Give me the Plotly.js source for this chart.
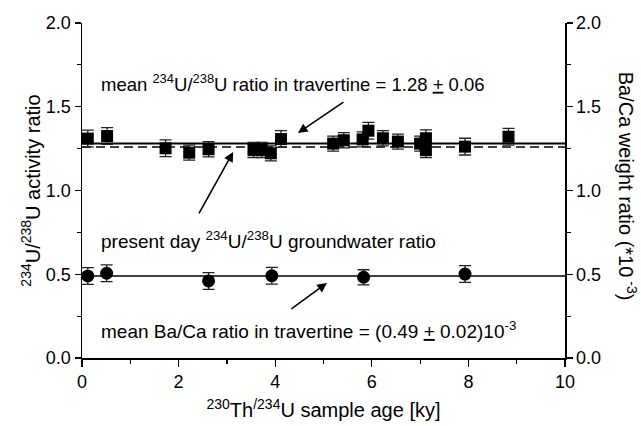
<!DOCTYPE html>
<html>
<head>
<meta charset="utf-8">
<script src="https://cdn.plot.ly/plotly-3.0.1.min.js"></script>
<style>html,body{margin:0;padding:0;background:#fff;}#chart{width:641px;height:426px;}</style>
</head>
<body>
<div id="chart"></div>
<script>
// U-234/U-238 activity ratio samples (squares)
var uAge = [0.12, 0.52, 1.73, 2.22, 2.62, 3.55, 3.72, 3.91, 4.12, 5.2, 5.42, 5.81, 5.93, 6.23, 6.54, 7.0, 7.12, 7.12, 7.93, 8.83];
var uRatio = [1.31, 1.325, 1.252, 1.226, 1.246, 1.242, 1.242, 1.222, 1.307, 1.28, 1.30, 1.305, 1.357, 1.312, 1.292, 1.28, 1.312, 1.242, 1.262, 1.321];
var uErr = [0.05, 0.05, 0.05, 0.045, 0.045, 0.045, 0.045, 0.045, 0.05, 0.045, 0.045, 0.045, 0.05, 0.045, 0.045, 0.045, 0.05, 0.045, 0.05, 0.05];
// Ba/Ca weight ratio samples (circles, *10^-3)
var baAge = [0.12, 0.51, 2.62, 3.93, 5.83, 7.93];
var baRatio = [0.49, 0.506, 0.46, 0.491, 0.482, 0.501];
var baErr = [0.05, 0.05, 0.05, 0.05, 0.045, 0.05];
// reference levels
var lineX = [0, 10];
var meanU = 1.28;
var groundwaterU = 1.26;
var meanBa = 0.49;
var xTicks = [0, 2, 4, 6, 8, 10];
var yTicks = [0.0, 0.5, 1.0, 1.5, 2.0];
var yTickText = ['0.0', '0.5', '1.0', '1.5', '2.0'];

var FONT = 'Liberation Sans, Arial, Helvetica, sans-serif';

var traces = [
  {x: lineX, y: [meanU, meanU], mode: 'lines', line: {color: '#000', width: 2}, xaxis: 'x', yaxis: 'y', hoverinfo: 'skip'},
  {x: lineX, y: [groundwaterU, groundwaterU], mode: 'lines', line: {color: '#000', width: 1.6, dash: '9px,5px'}, xaxis: 'x', yaxis: 'y', hoverinfo: 'skip'},
  {x: lineX, y: [meanBa, meanBa], mode: 'lines', line: {color: '#000', width: 1.6}, xaxis: 'x', yaxis: 'y2', hoverinfo: 'skip'},
  {x: uAge, y: uRatio, mode: 'markers', xaxis: 'x', yaxis: 'y',
   marker: {symbol: 'square', size: 12, color: '#000'},
   error_y: {type: 'data', array: uErr, visible: true, color: '#222', thickness: 1.3, width: 6}},
  {x: baAge, y: baRatio, mode: 'markers', xaxis: 'x', yaxis: 'y2',
   marker: {symbol: 'circle', size: 13, color: '#000'},
   error_y: {type: 'data', array: baErr, visible: true, color: '#222', thickness: 1.3, width: 6}}
];

var layout = {
  width: 641, height: 426,
  margin: {l: 82, r: 76, t: 23, b: 68},
  paper_bgcolor: '#fff', plot_bgcolor: '#fff',
  showlegend: false,
  font: {family: FONT, size: 18, color: '#000'},
  xaxis: {
    range: [0, 10], tickvals: xTicks, ticks: 'outside', ticklen: 7, tickwidth: 1.2, tickcolor: '#000',
    minor: {dtick: 1, ticks: 'outside', ticklen: 4, tickwidth: 1.2, tickcolor: '#000'},
    showline: true, linecolor: '#000', linewidth: 1.5, showgrid: false, zeroline: false,
    tickfont: {family: FONT, size: 18},
    title: {text: '<sup>230</sup>Th<sup>/234</sup>U sample age [ky]', font: {family: FONT, size: 20}, standoff: 12}
  },
  xaxis2: {
    range: [0, 10], overlaying: 'x', side: 'top', tickvals: xTicks, ticks: 'inside', ticklen: 6, tickwidth: 1.2, tickcolor: '#000',
    minor: {dtick: 1, ticks: 'inside', ticklen: 4, tickwidth: 1.2, tickcolor: '#000'},
    showticklabels: false, showline: true, linecolor: '#000', linewidth: 1.5, showgrid: false, zeroline: false
  },
  yaxis: {
    range: [0, 2], tickvals: yTicks, ticktext: yTickText, ticks: 'outside', ticklen: 6, tickwidth: 1.2, tickcolor: '#000',
    minor: {dtick: 0.25, ticks: 'outside', ticklen: 4, tickwidth: 1.2, tickcolor: '#000'},
    showline: true, linecolor: '#000', linewidth: 1.5, showgrid: false, zeroline: false,
    tickfont: {family: FONT, size: 18},
    title: {text: '<sup>234</sup>U/<sup>238</sup>U activity ratio', font: {family: FONT, size: 20}, standoff: 0}
  },
  yaxis2: {
    range: [0, 2], overlaying: 'y', side: 'right', tickvals: yTicks, ticktext: yTickText, ticks: 'outside', ticklen: 6, tickwidth: 1.2, tickcolor: '#000',
    minor: {dtick: 0.25, ticks: 'outside', ticklen: 4, tickwidth: 1.2, tickcolor: '#000'},
    showline: true, linecolor: '#000', linewidth: 1.5, showgrid: false, zeroline: false,
    tickfont: {family: FONT, size: 18}
  },
  annotations: [
    {xref: 'x', yref: 'y', x: 0.35, y: 1.642, xanchor: 'left', yanchor: 'middle', showarrow: false,
     text: 'mean <sup>234</sup>U/<sup>238</sup>U ratio in travertine = 1.28 <u>+</u> 0.06', font: {family: FONT, size: 18.5, color: '#000'}},
    {xref: 'x', yref: 'y', x: 0.35, y: 0.704, xanchor: 'left', yanchor: 'middle', showarrow: false,
     text: 'present day <sup>234</sup>U/<sup>238</sup>U groundwater ratio', font: {family: FONT, size: 19, color: '#000'}},
    {xref: 'x', yref: 'y', x: 0.35, y: 0.167, xanchor: 'left', yanchor: 'middle', showarrow: false,
     text: 'mean Ba/Ca ratio in travertine = (0.49 <u>+</u> 0.02)10<sup>-3</sup>', font: {family: FONT, size: 19, color: '#000'}},
    {xref: 'x', yref: 'y', x: 4.47, y: 1.343, ax: 47, ay: -32, text: '', showarrow: true, arrowhead: 2, arrowsize: 1.2, arrowwidth: 1.6, arrowcolor: '#000'},
    {xref: 'x', yref: 'y', x: 3.13, y: 1.23, ax: -35, ay: 63, text: '', showarrow: true, arrowhead: 2, arrowsize: 1.2, arrowwidth: 1.6, arrowcolor: '#000'},
    {xref: 'x', yref: 'y', x: 5.07, y: 0.448, ax: -37, ay: 27, text: '', showarrow: true, arrowhead: 2, arrowsize: 1.2, arrowwidth: 1.6, arrowcolor: '#000'},
    {xref: 'paper', yref: 'paper', x: 1.13, y: 0.512, xanchor: 'center', yanchor: 'middle', showarrow: false, textangle: 90,
     text: 'Ba/Ca weight ratio (*10<sup> -3</sup>)', font: {family: FONT, size: 20, color: '#000'}}
  ]
};

Plotly.newPlot('chart', traces, layout, {staticPlot: true, displayModeBar: false});
</script>
</body>
</html>
